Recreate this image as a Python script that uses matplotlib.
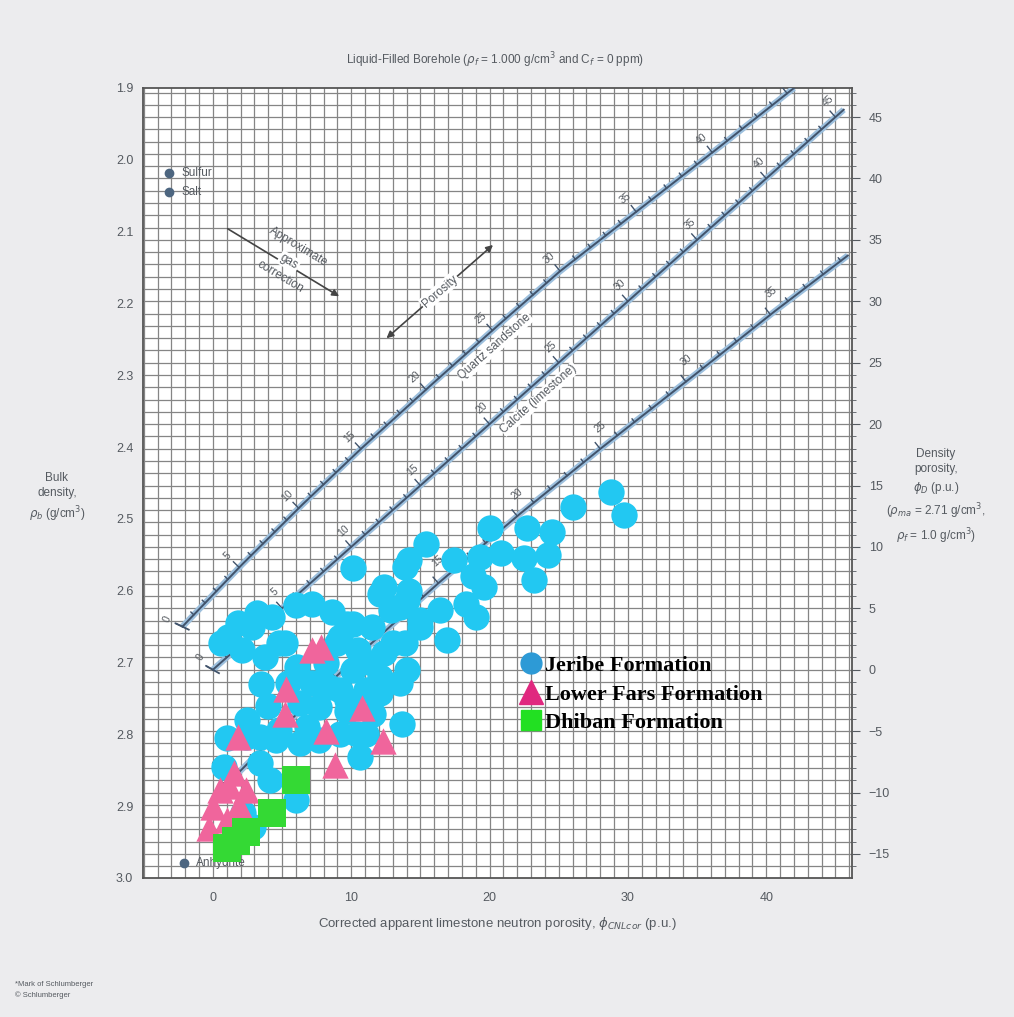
import numpy as np
import matplotlib.pyplot as plt
from matplotlib.lines import Line2D
from matplotlib import font_manager

# ---- data --------------------------------------------------------------
# Jeribe Formation (circles): neutron porosity (p.u.), bulk density (g/cm3)
jeribe_phin = [28.8, 29.7, 26.0, 22.7, 24.5, 20.0, 24.2, 22.5, 23.2, 20.8,
               19.3, 17.4, 15.4, 14.2, 19.6, 18.3, 16.9, 15.0, 14.0, 16.4,
               19.0, 14.0, 10.1, 13.9, 12.4, 12.1, 18.8, 1.1, 2.8, 4.3,
               6.0, 7.2, 8.6, 10.1, 11.5, 12.9, 2.1, 3.8, 5.2, 0.6,
               9.0, 10.5, 12.4, 13.9, 9.7, 13.5, 15.0, 4.8, 9.2, 13.0,
               12.1, 10.1, 8.2, 6.1, 5.4, 7.2, 9.2, 11.1, 13.5, 13.7,
               11.6, 9.7, 7.7, 6.3, 6.8, 4.8, 3.4, 10.4, 3.2, 1.8,
               10.6, 11.1, 9.2, 7.7, 6.3, 4.6, 3.4, 4.1, 6.0, 2.2,
               2.9, 2.4, 1.0, 0.8, 9.7, 12.1, 8.4, 11.5, 3.5, 4.0,
               2.5, 14.2]
jeribe_rhob = [2.462, 2.495, 2.483, 2.513, 2.518, 2.513, 2.550, 2.555, 2.585, 2.548,
               2.553, 2.557, 2.535, 2.557, 2.595, 2.618, 2.669, 2.641, 2.711, 2.627,
               2.636, 2.613, 2.569, 2.567, 2.595, 2.605, 2.580, 2.664, 2.650, 2.636,
               2.620, 2.618, 2.630, 2.646, 2.650, 2.627, 2.683, 2.692, 2.673, 2.673,
               2.673, 2.683, 2.687, 2.673, 2.646, 2.623, 2.650, 2.673, 2.665, 2.673,
               2.720, 2.711, 2.701, 2.706, 2.729, 2.729, 2.738, 2.738, 2.729, 2.785,
               2.771, 2.767, 2.762, 2.757, 2.790, 2.794, 2.804, 2.799, 2.631, 2.645,
               2.831, 2.799, 2.799, 2.808, 2.812, 2.808, 2.840, 2.864, 2.892, 2.910,
               2.929, 2.803, 2.805, 2.845, 2.752, 2.743, 2.734, 2.700, 2.730, 2.760,
               2.780, 2.600]

# Lower Fars Formation (triangles)
fars_phin = [7.2, 7.8, 5.3, 5.2, 1.8, 8.2, 10.8, 12.3, 8.8, 1.5,
             0.5, 2.4, 0.0, 1.9, -0.3, 1.0, 1.2]
fars_rhob = [2.683, 2.679, 2.737, 2.771, 2.804, 2.795, 2.763, 2.809, 2.843, 2.854,
             2.878, 2.878, 2.901, 2.898, 2.930, 2.919, 2.872]

# Dhiban Formation (squares)
dhiban_phin = [6.0, 4.3, 2.4, 1.0, 1.7]
dhiban_rhob = [2.864, 2.910, 2.936, 2.958, 2.948]

# lithology lines: true porosity -> apparent limestone neutron porosity
sand_phi = [0, 5, 10, 15, 20, 25, 30, 35, 40, 45.45]
sand_phin = [-2.2, 1.9, 6.2, 10.7, 15.4, 20.2, 25.1, 30.6, 36.1, 42.0]
lime_phi = [0, 45.6]
lime_phin = [0, 45.6]
dolo_phi = [0, 5, 10, 15, 20, 25, 30, 35, 39.4]
dolo_phin = [1.0, 5.8, 10.9, 16.3, 22.0, 28.0, 34.2, 40.3, 45.9]

# minerals: (phiN, rhob)
minerals = {"Sulfur": (-3.2, 2.018), "Salt": (-3.2, 2.045), "Anhydrite": (-2.1, 2.979)}

RHO_MA, RHO_F = 2.71, 1.0

# ---- fonts ---------------------------------------------------------------
names = {f.name for f in font_manager.fontManager.ttflist}
SANS = [n for n in ["Liberation Sans Narrow", "Liberation Sans", "DejaVu Sans"] if n in names]
plt.rcParams["font.family"] = SANS
plt.rcParams["mathtext.fontset"] = "dejavusans"

TXT = "#555a60"
LINE_DARK = "#41536b"
LINE_HALO = "#9cbfdd"

fig = plt.figure(figsize=(10.14, 10.17), dpi=100, facecolor="#ececee")
ax = fig.add_axes([143 / 1014, 1 - 878 / 1017, 709 / 1014, 790 / 1017])
ax.set_facecolor("white")
ax.set_xlim(-5.05, 46.2)
ax.set_ylim(3.0, 1.9)

# grid: 1 p.u. neutron vertically, 1 p.u. density porosity horizontally
for xv in np.arange(-5, 47):
    ax.axvline(xv, color="#858585", lw=0.9, zorder=1)
for k in np.arange(-17, 48):
    ax.axhline(RHO_MA - k * (RHO_MA - RHO_F) / 100, color="#858585", lw=0.9, zorder=1)


def to_disp(x, y):
    return ax.transData.transform(np.column_stack([x, y]))


def from_disp(p):
    return ax.transData.inverted().transform(p)


def frame_at(p, phi_tab, phin_tab, rho_m):
    pn = np.interp([p - 0.5, p, p + 0.5], phi_tab, phin_tab)
    rr = rho_m - (rho_m - RHO_F) * np.array([p - 0.5, p, p + 0.5]) / 100
    d = to_disp(pn, rr)
    t = d[2] - d[0]
    t /= np.hypot(*t)
    nrm = np.array([-t[1], t[0]])
    return pn[1], rr[1], d[1], t, nrm, np.degrees(np.arctan2(t[1], t[0]))


def litho_line(phi_tab, phin_tab, rho_m, labels, along, name=None, name_at=None):
    phi = np.linspace(phi_tab[0], phi_tab[-1], 200)
    phin = np.interp(phi, phi_tab, phin_tab)
    rho = rho_m - (rho_m - RHO_F) * phi / 100
    ax.plot(phin, rho, color=LINE_HALO, lw=4.5, zorder=3, solid_capstyle="butt")
    ax.plot(phin, rho, color=LINE_DARK, lw=1.4, zorder=3.1)
    # ticks every 1 p.u., longer and labelled every 5
    for p in np.arange(0, int(phi_tab[-1]) + 1):
        xn, yr, d, t, nrm, ang = frame_at(p, phi_tab, phin_tab, rho_m)
        if p == 0:
            seg = from_disp(np.array([d - 7 * nrm, d + 7 * nrm]))
            ax.plot(seg[:, 0], seg[:, 1], color=LINE_DARK, lw=1.3, zorder=3.2)
        L = 8 if p % 5 == 0 else 4
        seg = from_disp(np.array([d, d + L * nrm]))
        ax.plot(seg[:, 0], seg[:, 1], color=LINE_DARK, lw=1.0, zorder=3.2)
        if p % 5 == 0 and p in labels:
            off = 17 * nrm + along * t
            ax.annotate(str(p), (xn, yr), xytext=(off[0], off[1]),
                        textcoords="offset pixels", ha="center", va="center",
                        rotation=ang, fontsize=7.5, color=TXT, zorder=3.3)
    if name:
        xn, yr, d, t, nrm, ang = frame_at(name_at, phi_tab, phin_tab, rho_m)
        pos = from_disp((d - 14 * nrm)[None, :])[0]
        ax.text(pos[0], pos[1], name, rotation=ang, rotation_mode="anchor",
                ha="center", va="center", fontsize=8.5, color=TXT, zorder=3.3,
                bbox=dict(facecolor="white", edgecolor="none", pad=0.5))


litho_line(sand_phi, sand_phin, 2.65, list(range(0, 45, 5)), 0, "Quartz sandstone", 24.5)
litho_line(lime_phi, lime_phin, RHO_MA, list(range(0, 50, 5)), 5, "Calcite (limestone)", 22.9)
litho_line(dolo_phi, dolo_phin, 2.87, list(range(0, 40, 5)), 14)

# mineral points
for name, (xn, yr) in minerals.items():
    ax.plot(xn, yr, "o", color="#4d6680", ms=6, zorder=3)
    ax.text(xn + 0.9, yr, name, va="center", ha="left", fontsize=8.5, color=TXT, zorder=3)

# gas correction arrow
ax.annotate("", xy=(9.3, 2.192), xytext=(0.9, 2.094),
            arrowprops=dict(arrowstyle="-|>", color="#444", lw=1.2, mutation_scale=10), zorder=3)
ax.text(5.5, 2.142, "Approximate\ngas\ncorrection", rotation=-31, ha="center", va="center",
        fontsize=8.5, color=TXT, linespacing=1.6, rotation_mode="anchor", zorder=3.3)
ax.text(5.5, 2.142, "gas", rotation=-31, ha="center", va="center", fontsize=8.5, color=TXT,
        zorder=3.3, bbox=dict(facecolor="white", edgecolor="none", pad=1), rotation_mode="anchor")

# porosity arrow
ax.annotate("", xy=(20.4, 2.116), xytext=(12.4, 2.251),
            arrowprops=dict(arrowstyle="<|-|>", color="#444", lw=1.2, mutation_scale=10), zorder=3)
ax.text(16.4, 2.183, "Porosity", rotation=41, ha="center", va="center", fontsize=8.5, color=TXT,
        zorder=3.3, bbox=dict(facecolor="white", edgecolor="none", pad=1), rotation_mode="anchor")

# data
ax.scatter(jeribe_phin, jeribe_rhob, s=360, marker="o", color="#22c8f2", zorder=5, linewidths=0)
ax.scatter(fars_phin, fars_rhob, s=360, marker="^", color="#f0659c", zorder=6, linewidths=0)
ax.scatter(dhiban_phin, dhiban_rhob, s=420, marker="s", color="#34d934", zorder=7, linewidths=0)

handles = [
    Line2D([], [], marker="o", ls="", color="#2d9ad6", ms=15),
    Line2D([], [], marker="^", ls="", color="#e0287f", ms=17),
    Line2D([], [], marker="s", ls="", color="#22e022", ms=14),
]
leg = ax.legend(handles, ["Jeribe Formation", "Lower Fars Formation", "Dhiban Formation"],
                loc="upper left", bbox_to_anchor=(0.503, 0.304), frameon=False,
                handletextpad=0.05, labelspacing=0.35, handlelength=1.2, borderpad=0.3,
                prop=dict(family="Liberation Serif", weight="bold", size=16))
leg.set_zorder(8)

# axes
ax.set_xticks([0, 10, 20, 30, 40])
ax.set_yticks(np.round(np.arange(1.9, 3.01, 0.1), 1))
ax.set_yticklabels([f"{v:.1f}" for v in np.arange(1.9, 3.01, 0.1)])
ax.tick_params(axis="both", length=0, labelsize=9, colors=TXT, pad=7)
ax.tick_params(axis="x", pad=10)
for s in ax.spines.values():
    s.set_color("#555")
    s.set_linewidth(1.3)

ax2 = ax.twinx()
ax2.set_ylim((RHO_MA - 3.0) / (RHO_MA - RHO_F) * 100, (RHO_MA - 1.9) / (RHO_MA - RHO_F) * 100)
ax2.set_yticks(np.arange(-15, 46, 5))
ax2.set_yticks(np.arange(-16, 48, 1), minor=True)
ax2.tick_params(axis="y", which="major", length=6, labelsize=9, colors=TXT, pad=6)
ax2.tick_params(axis="y", which="minor", length=3, colors=TXT)
for s in ax2.spines.values():
    s.set_visible(False)

# labels
fig.text(495 / 1014, 1 - 60 / 1017,
         r"Liquid-Filled Borehole ($\rho_f$ = 1.000 g/cm$^3$ and C$_f$ = 0 ppm)",
         ha="center", va="center", fontsize=8.5, color=TXT)
fig.text(57 / 1014, 1 - 498 / 1017, "Bulk\ndensity,\n" + r"$\rho_b$ (g/cm$^3$)",
         ha="center", va="center", fontsize=8.5, color=TXT, linespacing=1.4)
fig.text(936 / 1014, 1 - 497 / 1017,
         "Density\nporosity,\n" + r"$\phi_D$ (p.u.)" + "\n" + r"($\rho_{ma}$ = 2.71 g/cm$^3$," + "\n"
         + r"$\rho_f$ = 1.0 g/cm$^3$)",
         ha="center", va="center", fontsize=8.5, color=TXT, linespacing=1.4)
fig.text(497 / 1014, 1 - 924 / 1017,
         r"Corrected apparent limestone neutron porosity, $\phi_{CNLcor}$ (p.u.)",
         ha="center", va="center", fontsize=9.5, color=TXT)
fig.text(15 / 1014, 1 - 990 / 1017, "*Mark of Schlumberger\n© Schlumberger",
         ha="left", va="center", fontsize=5.5, color=TXT, linespacing=1.5)

fig.savefig("out.png", dpi=100, facecolor=fig.get_facecolor())
